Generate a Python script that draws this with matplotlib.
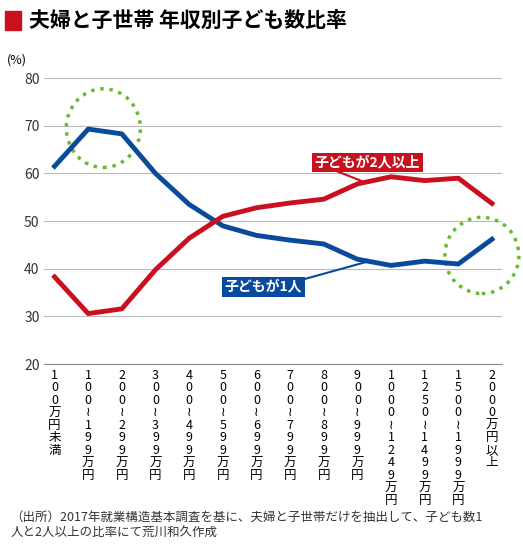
import matplotlib
matplotlib.use("Agg")
import matplotlib.pyplot as plt
from matplotlib.patches import Ellipse, Rectangle

plt.rcParams['font.family'] = ['Noto Sans CJK JP', 'DejaVu Sans']

categories = ["100万円未満", "100≀199万円", "200≀299万円", "300≀399万円", "400≀499万円",
              "500≀599万円", "600≀699万円", "700≀799万円", "800≀899万円", "900≀999万円",
              "1000≀1249万円", "1250≀1499万円", "1500≀1999万円", "2000万円以上"]
one_child = [61.5, 69.3, 68.3, 60.0, 53.5, 49.0, 47.0, 46.0, 45.2, 42.0, 40.7, 41.6, 41.0, 46.2]
two_plus = [38.3, 30.6, 31.6, 39.8, 46.4, 51.0, 52.8, 53.8, 54.6, 57.8, 59.3, 58.5, 59.0, 53.7]

fig = plt.figure(figsize=(5.23, 5.5), dpi=100)
ax = fig.add_axes([0.085, 0.338, 0.875, 0.52])
x = list(range(len(categories)))
ax.plot(x, one_child, color='#0a4a9c', lw=3.5)
ax.plot(x, two_plus, color='#c8101e', lw=3.5)
ax.set_ylim(20, 80)
ax.set_xlim(-0.3, 13.3)
ax.set_yticks(range(20, 81, 10))
ax.grid(axis='y', color='#bbbbbb', lw=0.8)
ax.set_axisbelow(True)
for s in ['top', 'right', 'left']:
    ax.spines[s].set_visible(False)
ax.spines['bottom'].set_color('#888888')
ax.tick_params(axis='y', length=0, labelsize=10, colors='#333333')
ax.tick_params(axis='x', length=0)
ax.set_xticks(x)
ax.set_xticklabels(["\n".join(c) for c in categories], fontsize=9, linespacing=0.95, va='top')
ax.text(-0.06, 1.05, "(%)", transform=ax.transAxes, fontsize=9, ha='center')

ax.add_patch(Ellipse((1.45, 69.5), 2.2, 16.5, fill=False, ls=':', lw=2.5, color='#66bb33'))
ax.add_patch(Ellipse((12.7, 42.8), 2.2, 16.0, fill=False, ls=':', lw=2.5, color='#66bb33', clip_on=False))

ax.text(9.3, 62.3, "子どもが2人以上", color='white', fontsize=10, fontweight='bold', ha='center', va='center',
        bbox=dict(boxstyle='square,pad=0.2', fc='#c8101e', ec='none'))
ax.annotate("", xy=(9.2, 58.2), xytext=(8.2, 61), arrowprops=dict(arrowstyle='-', color='#c8101e', lw=1.5))
ax.text(6.2, 36.2, "子どもが1人", color='white', fontsize=10, fontweight='bold', ha='center', va='center',
        bbox=dict(boxstyle='square,pad=0.2', fc='#0a4a9c', ec='none'))
ax.annotate("", xy=(9.3, 41.5), xytext=(7.1, 37.2), arrowprops=dict(arrowstyle='-', color='#0a4a9c', lw=1.5))

fig.patches.append(Rectangle((0.01, 0.945), 0.03, 0.035, transform=fig.transFigure, color='#c8101e'))
fig.text(0.055, 0.962, "夫婦と子世帯 年収別子ども数比率", fontsize=15, fontweight='bold', va='center')
fig.text(0.02, 0.045, "（出所）2017年就業構造基本調査を基に、夫婦と子世帯だけを抽出して、子ども数1\n人と2人以上の比率にて荒川和久作成",
         fontsize=9, va='center', linespacing=1.3, color='#333333')
fig.savefig("out.png", dpi=100)
